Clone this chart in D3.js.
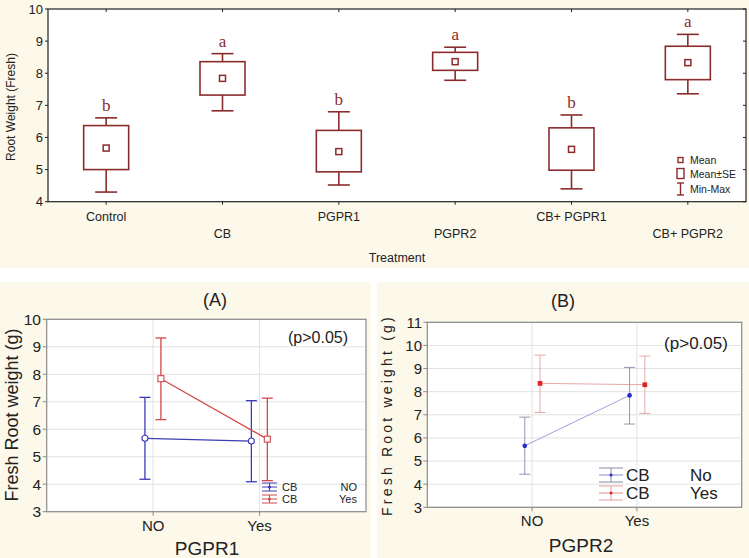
<!DOCTYPE html>
<html>
<head>
<meta charset="utf-8">
<script src="https://d3js.org/d3.v7.min.js"></script>
<style>
  body { margin: 0; background: #fcf8ea; }
  svg { display: block; }
</style>
</head>
<body>
<div id="chart"></div>
<script>
// ---- top chart data (box plot) ----
var treatments = ["Control", "CB", "PGPR1", "PGPR2", "CB+ PGPR1", "CB+ PGPR2"];
var means   = [5.67, 7.84, 5.56, 8.36, 5.63, 8.33];
var seLow   = [5.00, 7.32, 4.93, 8.09, 4.98, 7.80];
var seHigh  = [6.37, 8.36, 6.22, 8.65, 6.30, 8.84];
var minVals = [4.30, 6.83, 4.52, 7.78, 4.40, 7.36];
var maxVals = [6.61, 8.61, 6.80, 8.81, 6.70, 9.21];
var letters = ["b", "a", "b", "a", "b", "a"];
var topTicks = [4, 5, 6, 7, 8, 9, 10];

// ---- panel A data (PGPR1 x CB) ----
var levelsA = ["NO", "Yes"];
var aNoMean = [5.67, 5.57], aNoLo = [4.18, 4.09], aNoHi = [7.16, 7.04];
var aYesMean = [7.84, 5.64], aYesLo = [6.35, 4.13], aYesHi = [9.32, 7.13];
var ticksA = [3, 4, 5, 6, 7, 8, 9, 10];

// ---- panel B data (PGPR2 x CB) ----
var levelsB = ["NO", "Yes"];
var bNoMean = [5.66, 7.84], bNoLo = [4.43, 6.60], bNoHi = [6.90, 9.05];
var bYesMean = [8.36, 8.30], bYesLo = [7.10, 7.06], bYesHi = [9.58, 9.54];
var ticksB = [3, 4, 5, 6, 7, 8, 9, 10, 11];

var W = 749, H = 558;
var svg = d3.select("#chart").append("svg")
  .attr("width", W).attr("height", H);

svg.append("rect").attr("width", W).attr("height", H).attr("fill", "#fcf8ea");
// white separators
svg.append("rect").attr("x", 0).attr("y", 268).attr("width", W).attr("height", 14).attr("fill", "#ffffff");
svg.append("rect").attr("x", 371).attr("y", 268).attr("width", 6).attr("height", H - 268).attr("fill", "#ffffff");

// ================= TOP CHART =================
var boxColor = "#8b2c2c";
var sans = "'Liberation Sans', Arial, sans-serif";

var x = d3.scaleBand().domain(treatments).range([48, 746]).padding(0);
var y = d3.scaleLinear().domain([4, 10]).range([201.7, 9]);

var topG = svg.append("g");
topG.append("rect").attr("x", 48).attr("y", 9).attr("width", 698).attr("height", 192.7)
  .attr("fill", "#ffffff").attr("stroke", "#222").attr("stroke-width", 1.2);

// y ticks
topTicks.forEach(function(t) {
  topG.append("line").attr("x1", 45).attr("x2", 48).attr("y1", y(t)).attr("y2", y(t)).attr("stroke", "#222");
  topG.append("line").attr("x1", 743).attr("x2", 746).attr("y1", y(t)).attr("y2", y(t)).attr("stroke", "#222");
  topG.append("text").attr("x", 43).attr("y", y(t)).attr("dy", "0.36em")
    .attr("text-anchor", "end").attr("font-family", sans).attr("font-size", 13)
    .attr("fill", "#222").text(t);
});

// x ticks and labels
treatments.forEach(function(t, i) {
  var cx = x(t) + x.bandwidth() / 2;
  topG.append("line").attr("x1", cx).attr("x2", cx).attr("y1", 201.7).attr("y2", 204.7).attr("stroke", "#222");
  topG.append("line").attr("x1", cx).attr("x2", cx).attr("y1", 9).attr("y2", 12).attr("stroke", "#222");
  topG.append("text").attr("x", cx).attr("y", i % 2 === 0 ? 221 : 238)
    .attr("text-anchor", "middle").attr("font-family", sans).attr("font-size", 12.5)
    .attr("fill", "#222").text(t);
});

topG.append("text").attr("x", 397).attr("y", 262).attr("text-anchor", "middle")
  .attr("font-family", sans).attr("font-size", 12.5).attr("fill", "#222").text("Treatment");
topG.append("text").attr("transform", "translate(15,107) rotate(-90)").attr("text-anchor", "middle")
  .attr("font-family", sans).attr("font-size", 12).attr("fill", "#222")
  .text("Root Weight (Fresh)");

var boxW = 45, capW = 22;
treatments.forEach(function(t, i) {
  var cx = x(t) + x.bandwidth() / 2;
  var g = topG.append("g").attr("stroke", boxColor).attr("fill", "none").attr("stroke-width", 1.6);
  g.append("line").attr("x1", cx).attr("x2", cx).attr("y1", y(maxVals[i])).attr("y2", y(seHigh[i]));
  g.append("line").attr("x1", cx).attr("x2", cx).attr("y1", y(seLow[i])).attr("y2", y(minVals[i]));
  g.append("line").attr("x1", cx - capW / 2).attr("x2", cx + capW / 2).attr("y1", y(maxVals[i])).attr("y2", y(maxVals[i]));
  g.append("line").attr("x1", cx - capW / 2).attr("x2", cx + capW / 2).attr("y1", y(minVals[i])).attr("y2", y(minVals[i]));
  g.append("rect").attr("x", cx - boxW / 2).attr("y", y(seHigh[i]))
    .attr("width", boxW).attr("height", y(seLow[i]) - y(seHigh[i]));
  g.append("rect").attr("x", cx - 3).attr("y", y(means[i]) - 3).attr("width", 6).attr("height", 6)
    .attr("stroke-width", 1.5);
  topG.append("text").attr("x", cx).attr("y", y(maxVals[i]) - 7).attr("text-anchor", "middle")
    .attr("font-family", "'Liberation Serif', serif").attr("font-size", 17).attr("fill", boxColor)
    .text(letters[i]);
});

// legend
var lg = topG.append("g").attr("stroke", boxColor).attr("fill", "none").attr("stroke-width", 1.4);
lg.append("rect").attr("x", 678).attr("y", 157.5).attr("width", 5).attr("height", 5);
lg.append("rect").attr("x", 677).attr("y", 168.5).attr("width", 7).attr("height", 10);
lg.append("line").attr("x1", 680.5).attr("x2", 680.5).attr("y1", 183).attr("y2", 195);
lg.append("line").attr("x1", 677).attr("x2", 684).attr("y1", 183).attr("y2", 183);
lg.append("line").attr("x1", 677).attr("x2", 684).attr("y1", 195).attr("y2", 195);
[["Mean", 160], ["Mean\u00b1SE", 174], ["Min-Max", 189]].forEach(function(d) {
  topG.append("text").attr("x", 690).attr("y", d[1]).attr("dy", "0.35em")
    .attr("font-family", sans).attr("font-size", 10.5).attr("fill", "#222").text(d[0]);
});

// ================= LOWER PANELS =================
var blue = "#3c3cb4", red = "#d04848";

function interactionPanel(o) {
  var g = svg.append("g");
  var px = d3.scaleLinear().domain([0, 3]).range([o.left, o.right]);
  var py = d3.scaleLinear().domain([o.ticks[0], o.ticks[o.ticks.length - 1]]).range([o.bottom, o.top]);

  g.append("rect").attr("x", o.left).attr("y", o.top).attr("width", o.right - o.left)
    .attr("height", o.bottom - o.top).attr("fill", "#ffffff");
  o.ticks.forEach(function(t) {
    g.append("line").attr("x1", o.left).attr("x2", o.right).attr("y1", py(t)).attr("y2", py(t))
      .attr("stroke", "#e2e2e2");
    g.append("line").attr("x1", o.left - 4).attr("x2", o.left).attr("y1", py(t)).attr("y2", py(t))
      .attr("stroke", "#8a8a8a");
    g.append("text").attr("x", o.tickX).attr("y", py(t)).attr("dy", "0.36em").attr("text-anchor", "end")
      .attr("font-family", sans).attr("font-size", o.tickSize).attr("fill", "#222").text(t);
  });
  o.levels.forEach(function(l, i) {
    g.append("line").attr("x1", px(i + 1)).attr("x2", px(i + 1)).attr("y1", o.top).attr("y2", o.bottom)
      .attr("stroke", "#e2e2e2");
    g.append("line").attr("x1", px(i + 1)).attr("x2", px(i + 1)).attr("y1", o.bottom).attr("y2", o.bottom + 4)
      .attr("stroke", "#8a8a8a");
    g.append("text").attr("x", px(i + 1)).attr("y", o.bottom + 19).attr("text-anchor", "middle")
      .attr("font-family", sans).attr("font-size", 15).attr("fill", "#222").text(l);
  });
  g.append("rect").attr("x", o.left).attr("y", o.top).attr("width", o.right - o.left)
    .attr("height", o.bottom - o.top).attr("fill", "none").attr("stroke", "#8a8a8a").attr("stroke-width", 1.2);

  o.series.forEach(function(s) {
    var pts = s.mean.map(function(m, i) { return [px(i + 1 + s.dx), py(m)]; });
    g.append("path").attr("d", d3.line()(pts)).attr("fill", "none")
      .attr("stroke", s.lineColor).attr("stroke-width", o.lineW);
    s.mean.forEach(function(m, i) {
      var cx = px(i + 1 + s.dx);
      var eg = g.append("g").attr("stroke", s.barColor).attr("stroke-width", o.barW);
      eg.append("line").attr("x1", cx).attr("x2", cx).attr("y1", py(s.hi[i])).attr("y2", py(s.lo[i]));
      eg.append("line").attr("x1", cx - 5.5).attr("x2", cx + 5.5).attr("y1", py(s.hi[i])).attr("y2", py(s.hi[i]));
      eg.append("line").attr("x1", cx - 5.5).attr("x2", cx + 5.5).attr("y1", py(s.lo[i])).attr("y2", py(s.lo[i]));
      if (s.shape === "circle") {
        g.append("circle").attr("cx", cx).attr("cy", py(m)).attr("r", o.markR)
          .attr("fill", o.filled ? s.color : "#fff").attr("stroke", s.color).attr("stroke-width", 1.1);
      } else {
        g.append("rect").attr("x", cx - o.markR).attr("y", py(m) - o.markR)
          .attr("width", 2 * o.markR).attr("height", 2 * o.markR)
          .attr("fill", o.filled ? s.color : "#fff").attr("stroke", s.color).attr("stroke-width", 1.1);
      }
    });
  });

  // legend
  o.series.forEach(function(s, k) {
    var ly = o.legY[k];
    var lgs = g.append("g").attr("stroke", s.barColor).attr("stroke-width", 1);
    lgs.append("line").attr("x1", o.legX0).attr("x2", o.legX1).attr("y1", ly - o.legH).attr("y2", ly - o.legH);
    lgs.append("line").attr("x1", o.legX0).attr("x2", o.legX1).attr("y1", ly + o.legH).attr("y2", ly + o.legH);
    lgs.append("line").attr("x1", o.legX0).attr("x2", o.legX1).attr("y1", ly).attr("y2", ly).attr("stroke", s.lineColor);
    var mx = (o.legX0 + o.legX1) / 2;
    lgs.append("line").attr("x1", mx).attr("x2", mx).attr("y1", ly - o.legH).attr("y2", ly + o.legH);
    g.append("circle").attr("cx", mx).attr("cy", ly).attr("r", 1.5).attr("fill", s.color);
    g.append("text").attr("x", o.legText).attr("y", ly).attr("dy", "0.36em")
      .attr("font-family", sans).attr("font-size", o.legSize).attr("fill", "#222").text("CB");
    g.append("text").attr("x", o.legLevX).attr("y", ly).attr("dy", "0.36em").attr("text-anchor", o.legLevAnchor)
      .attr("font-family", sans).attr("font-size", o.legSize).attr("fill", "#222").text(o.legLevels[k]);
  });

  g.append("text").attr("x", o.titleX).attr("y", o.titleY).attr("text-anchor", "middle")
    .attr("font-family", sans).attr("font-size", 18).attr("fill", "#222").text(o.title);
  g.append("text").attr("x", o.pX).attr("y", o.pY).attr("text-anchor", "middle").attr("dy", "0.36em")
    .attr("font-family", sans).attr("font-size", o.pSize).attr("fill", "#222").text("(p>0.05)");
  g.append("text").attr("transform", "translate(" + o.ylabX + "," + o.ylabY + ") rotate(-90)")
    .attr("text-anchor", "middle").attr("dy", "0.36em").attr("letter-spacing", o.ylabSpacing)
    .attr("font-family", sans).attr("font-size", o.ylabSize).attr("fill", "#222").text(o.ylab);
  g.append("text").attr("x", o.xlabX).attr("y", o.xlabY).attr("text-anchor", "middle")
    .attr("font-family", sans).attr("font-size", 19).attr("fill", "#222").text(o.xlab);
}

interactionPanel({
  left: 46.7, right: 366, top: 319.3, bottom: 511.7,
  ticks: ticksA, levels: levelsA, tickX: 41, tickSize: 15.5,
  lineW: 1.2, barW: 1.3, markR: 3, filled: false,
  series: [
    { mean: aNoMean, lo: aNoLo, hi: aNoHi, dx: -0.077, color: blue, lineColor: blue, barColor: blue, shape: "circle" },
    { mean: aYesMean, lo: aYesLo, hi: aYesHi, dx: 0.073, color: red, lineColor: red, barColor: red, shape: "square" }
  ],
  legY: [487, 499], legH: 4, legX0: 262, legX1: 277, legText: 282, legSize: 11,
  legLevX: 357, legLevAnchor: "end", legLevels: ["NO", "Yes"],
  title: "(A)", titleX: 215, titleY: 306,
  pX: 318, pY: 337, pSize: 16,
  ylab: "Fresh Root weight  (g)", ylabX: 12, ylabY: 415, ylabSize: 18, ylabSpacing: 0,
  xlab: "PGPR1", xlabX: 207, xlabY: 555
});

interactionPanel({
  left: 427.3, right: 741.7, top: 322.3, bottom: 507.3,
  ticks: ticksB, levels: levelsB, tickX: 422, tickSize: 15,
  lineW: 0.8, barW: 0.9, markR: 1.8, filled: true,
  series: [
    { mean: bNoMean, lo: bNoLo, hi: bNoHi, dx: -0.07, color: "#2a2ad0", lineColor: "#8c8cc8", barColor: "#8a8aa8", shape: "circle" },
    { mean: bYesMean, lo: bYesLo, hi: bYesHi, dx: 0.076, color: "#e02020", lineColor: "#e09090", barColor: "#e0a0a0", shape: "square" }
  ],
  legY: [475, 493], legH: 7, legX0: 599, legX1: 623, legText: 626, legSize: 17,
  legLevX: 690, legLevAnchor: "start", legLevels: ["No", "Yes"],
  title: "(B)", titleX: 563, titleY: 307,
  pX: 696, pY: 343, pSize: 17,
  ylab: "Fresh Root weight (g)", ylabX: 387, ylabY: 415, ylabSize: 14, ylabSpacing: 3.2,
  xlab: "PGPR2", xlabX: 581, xlabY: 552
});
</script>
</body>
</html>
